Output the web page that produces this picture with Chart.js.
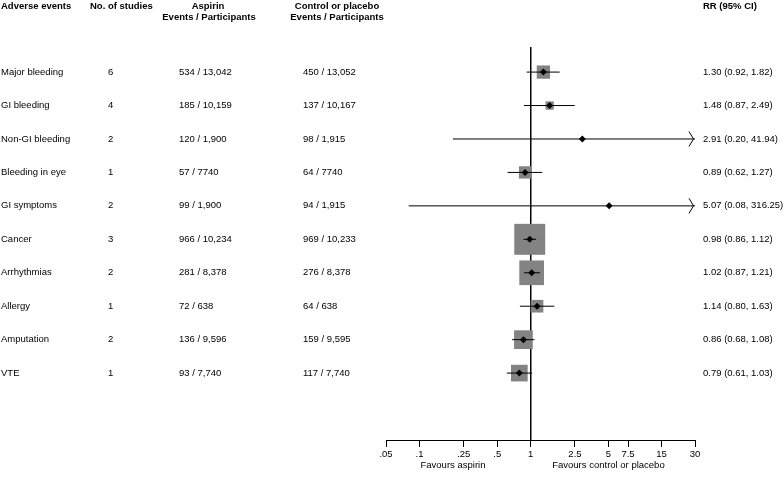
<!DOCTYPE html>
<html>
<head>
<meta charset="utf-8">
<script src="https://cdn.jsdelivr.net/npm/chart.js@4"></script>
<style>
  html, body { margin: 0; padding: 0; background: #fff; }
  #wrap { width: 784px; height: 481px; position: relative; }
</style>
</head>
<body>
<div id="wrap"><canvas id="c" width="784" height="481"></canvas></div>
<script>
// ---- Data ----
const events = ['Major bleeding','GI bleeding','Non-GI bleeding','Bleeding in eye','GI symptoms','Cancer','Arrhythmias','Allergy','Amputation','VTE'];
const studies = [6, 4, 2, 1, 2, 3, 2, 1, 2, 1];
const aspirinCounts = ['534 / 13,042','185 / 10,159','120 / 1,900','57 / 7740','99 / 1,900','966 / 10,234','281 / 8,378','72 / 638','136 / 9,596','93 / 7,740'];
const controlCounts = ['450 / 13,052','137 / 10,167','98 / 1,915','64 / 7740','94 / 1,915','969 / 10,233','276 / 8,378','64 / 638','159 / 9,595','117 / 7,740'];
const rr = [1.30, 1.48, 2.91, 0.89, 5.07, 0.98, 1.02, 1.14, 0.86, 0.79];
const ciLow = [0.92, 0.87, 0.20, 0.62, 0.08, 0.86, 0.87, 0.80, 0.68, 0.61];
const ciHigh = [1.82, 2.49, 41.94, 1.27, 316.25, 1.12, 1.21, 1.63, 1.08, 1.03];
const weights = [6.4, 2.5, 0, 5.5, 0, 34.8, 22.1, 5.8, 12.7, 10.1]; // relative weight (box area)
const tickValues = [0.05, 0.1, 0.25, 0.5, 1, 2.5, 5, 7.5, 15, 30];
const tickLabels = ['.05', '.1', '.25', '.5', '1', '2.5', '5', '7.5', '15', '30'];

// ---- Style ----
const X_MIN = 0.05, X_MAX = 30;
const FONT = '"Liberation Sans", Arial, Helvetica, sans-serif';
const FS = 9.5;
const BOX_K = 5.25;

const ciDatasets = rr.map((v, i) => ({
  type: 'line',
  data: [{x: Math.max(ciLow[i], X_MIN), y: i}, {x: Math.min(ciHigh[i], X_MAX), y: i}],
  borderColor: '#000', borderWidth: 1, pointRadius: 0, order: 2, clip: false
}));

const tablePlugin = {
  id: 'table',
  afterDraw(chart) {
    const ctx = chart.ctx;
    const xs = chart.scales.x, ys = chart.scales.y;
    ctx.save();
    ctx.fillStyle = '#000';
    ctx.strokeStyle = '#000';
    ctx.textBaseline = 'middle';
    // headers
    ctx.font = `bold ${FS}px ${FONT}`;
    ctx.textAlign = 'left';
    ctx.fillText('Adverse events', 1, 6);
    ctx.fillText('No. of studies', 90, 6);
    ctx.fillText('RR (95% CI)', 703, 6);
    ctx.textAlign = 'center';
    ctx.fillText('Aspirin', 208, 6);
    ctx.fillText('Events / Participants', 209, 17);
    ctx.fillText('Control or placebo', 337, 6);
    ctx.fillText('Events / Participants', 337, 17);
    // rows
    ctx.font = `${FS}px ${FONT}`;
    ctx.textAlign = 'left';
    events.forEach((e, i) => {
      const y = ys.getPixelForValue(i);
      ctx.fillText(e, 1, y);
      ctx.fillText(String(studies[i]), 108, y);
      ctx.fillText(aspirinCounts[i], 179, y);
      ctx.fillText(controlCounts[i], 303, y);
      ctx.fillText(`${rr[i].toFixed(2)} (${ciLow[i].toFixed(2)}, ${ciHigh[i].toFixed(2)})`, 703, y);
      // arrow for truncated CI
      if (ciHigh[i] > X_MAX) {
        const px = xs.getPixelForValue(X_MAX) - 1.5;
        ctx.lineWidth = 1;
        ctx.beginPath();
        ctx.moveTo(px - 4.5, y - 7.5);
        ctx.lineTo(px, y);
        ctx.lineTo(px - 4.5, y + 7.5);
        ctx.stroke();
      }
    });
    // favours labels
    ctx.textAlign = 'center';
    const fy = 465;
    ctx.fillText('Favours aspirin', xs.getPixelForValue(0.2), fy);
    ctx.fillText('Favours control or placebo', xs.getPixelForValue(5), fy);
    ctx.restore();
  }
};

new Chart(document.getElementById('c'), {
  data: {
    datasets: [
      {
        type: 'scatter',
        data: rr.map((v, i) => ({x: v, y: i})),
        pointStyle: 'rectRot', pointRadius: 3.5, pointHoverRadius: 3.5,
        backgroundColor: '#000', borderColor: '#000', borderWidth: 0, order: 0
      },
      ...ciDatasets,
      {
        type: 'scatter',
        data: rr.map((v, i) => ({x: v, y: i})),
        pointStyle: 'rect',
        pointRadius: ctx => BOX_K * Math.sqrt(weights[ctx.dataIndex]) / Math.SQRT2,
        backgroundColor: '#838383', borderWidth: 0, order: 3
      },
      {
        type: 'line',
        data: [{x: 1, y: -0.75}, {x: 1, y: 11}],
        borderColor: '#000', borderWidth: 1, pointRadius: 0, order: 4
      }
    ]
  },
  options: {
    responsive: false,
    devicePixelRatio: 1,
    animation: false,
    layout: { padding: { left: 386, right: 89, top: 47, bottom: 0 } },
    plugins: { legend: { display: false }, tooltip: { enabled: false } },
    scales: {
      x: {
        type: 'logarithmic',
        min: X_MIN, max: X_MAX,
        afterBuildTicks: s => { s.ticks = tickValues.map(v => ({value: v})); },
        afterFit: s => { s.height = 41; },
        ticks: {
          autoSkip: false, maxRotation: 0, minRotation: 0, padding: 2,
          color: '#000', font: { family: FONT, size: FS },
          callback: (v, i) => tickLabels[i]
        },
        grid: { drawOnChartArea: false, drawTicks: true, tickLength: 7, color: '#000' },
        border: { display: true, color: '#000', width: 1 }
      },
      y: {
        type: 'linear', reverse: true, min: -0.75, max: 11, display: false
      }
    }
  },
  plugins: [tablePlugin]
});
</script>
</body>
</html>
